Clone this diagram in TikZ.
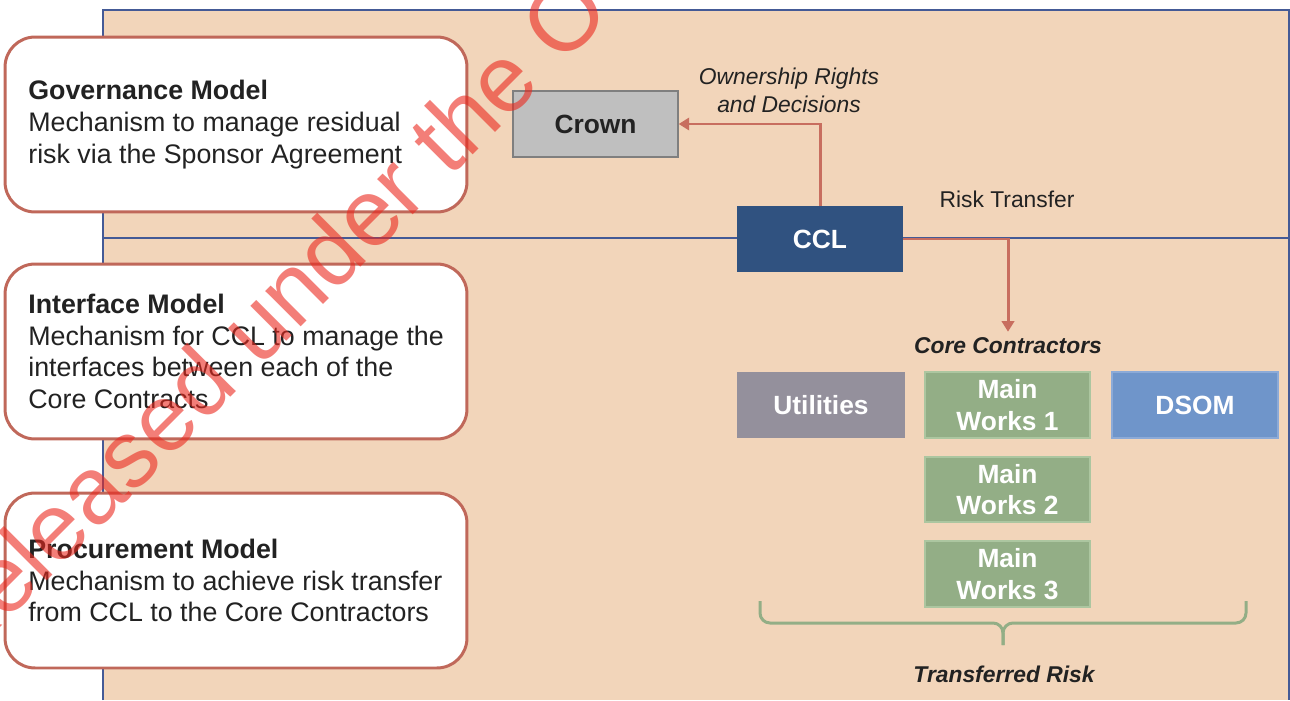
\documentclass[tikz,border=0pt]{standalone}
\usepackage{fontspec}
\setmainfont{Liberation Sans}
\usetikzlibrary{arrows.meta}
\definecolor{peach}{RGB}{242,213,186}
\definecolor{panelblue}{RGB}{68,90,150}
\definecolor{modelred}{RGB}{192,104,90}
\definecolor{flowred}{RGB}{200,110,95}
\definecolor{ink}{RGB}{34,34,34}
\definecolor{crowngray}{RGB}{191,191,191}
\definecolor{crownedge}{RGB}{127,127,127}
\definecolor{cclblue}{RGB}{48,82,128}
\definecolor{utilgray}{RGB}{148,144,156}
\definecolor{worksgreen}{RGB}{147,174,134}
\definecolor{worksedge}{RGB}{172,198,160}
\definecolor{dsomblue}{RGB}{111,149,202}
\definecolor{dsomedge}{RGB}{140,170,215}
\definecolor{stamp}{RGB}{235,40,30}
\begin{document}
\begin{tikzpicture}[x=0.02cm, y=-0.02cm,
    panel/.style={draw=panelblue, line width=0.6pt},
    model/.style={draw=modelred, line width=1.7pt, fill=white, rounded corners=0.6cm,
      minimum width=9.24cm, minimum height=3.5cm},
    modeltext/.style={anchor=west, inner sep=0pt, align=left, text=ink,
      font=\fontsize{15.25}{18.1}\selectfont},
    block/.style={minimum width=3.3cm, minimum height=1.32cm, inner sep=0pt,
      text=white, align=center, font=\fontsize{15}{18.1}\selectfont\bfseries},
    works/.style={block, fill=worksgreen, draw=worksedge, line width=0.8pt},
    tag/.style={text=ink, align=center, font=\fontsize{13}{15.9}\selectfont},
    flow/.style={draw=flowred, line width=1.7pt, -{Triangle[length=6pt,width=7pt]}},
    bracket/.style={draw=worksgreen, line width=1.7pt, rounded corners=0.2cm}]
  \useasboundingbox (0,0) rectangle (1290,700);
  % panels
  \fill[peach] (103,10) rectangle (1289,700);
  \draw[panel] (103,238) -- (103,10) -- (1289,10) -- (1289,238);
  \draw[panel] (103,700) -- (103,238) -- (1289,238) -- (1289,700);
  % models
  \node[model] (governance) at (236,124.5) {};
  \node[model] (interface) at (236,351.5) {};
  \node[model] (procurement) at (236,580.5) {};
  \node[modeltext] (governancetext) at (28,124.5) {\textbf{Governance Model}\\Mechanism to manage residual\\risk via the Sponsor Agreement};
  \node[modeltext] (interfacetext) at (28,351.5) {\textbf{Interface Model}\\Mechanism for CCL to manage the\\interfaces between each of the\\Core Contracts};
  \node[modeltext] (procurementtext) at (28,580.5) {\textbf{Procurement Model}\\Mechanism to achieve risk transfer\\from CCL to the Core Contractors};
  % parties
  \node[block, fill=crowngray, draw=crownedge, line width=0.8pt, text=ink] (crown) at (595.5,124) {Crown};
  \node[block, fill=cclblue, minimum width=3.32cm] (ccl) at (820,239) {CCL};
  \node[tag, font=\fontsize{13}{15.9}\selectfont\itshape] (own) at (789,90) {Ownership Rights\\and Decisions};
  \node[tag] (risk) at (1007,199) {Risk Transfer};
  \node[tag, font=\fontsize{13}{15.9}\selectfont\bfseries\itshape] (core) at (1008,346) {Core Contractors};
  \node[block, fill=utilgray, minimum width=3.36cm] (util) at (821,405) {Utilities};
  \node[works] (mw1) at (1007.5,405) {Main\\Works 1};
  \node[block, fill=dsomblue, draw=dsomedge, line width=0.8pt, minimum width=3.32cm] (dsom) at (1195,405) {DSOM};
  \node[works, minimum height=1.3cm] (mw2) at (1007.5,489.5) {Main\\Works 2};
  \node[works] (mw3) at (1007.5,574) {Main\\Works 3};
  \draw[flow] (ccl.north) |- (crown.east);
  \draw[flow] (ccl.east) -| (core.north);
  % brace
  \coordinate (bl) at (760,601);
  \coordinate (br) at (1246,601);
  \coordinate (tip) at (1003,645);
  \draw[bracket] (bl) -- ++(0,22) -- (1003,623) -- (tip);
  \draw[bracket] (br) -- ++(0,22) -- (1003,623) -- (tip);
  \node[tag, font=\fontsize{13}{15.9}\selectfont\bfseries\itshape] (transferred) at (1004,674) {Transferred Risk};
  % watermark
  \node[anchor=base west, rotate=45, inner sep=0pt, text=stamp, text opacity=0.6,
    font=\fontsize{54}{62}\selectfont] (stampnote) at (-43,671) {Released under the O};
\end{tikzpicture}
\end{document}
